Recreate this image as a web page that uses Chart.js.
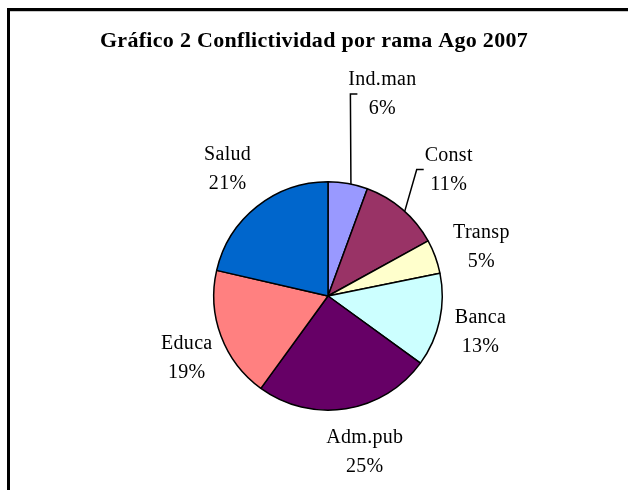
<!DOCTYPE html>
<html>
<head>
<meta charset="utf-8">
<script src="https://cdn.jsdelivr.net/npm/chart.js@4.4.1/dist/chart.umd.min.js"></script>
<style>
  html, body { margin: 0; padding: 0; background: #fff; }
  #wrap { position: relative; width: 628px; height: 490px; overflow: hidden; }
  #marco {
    position: absolute; left: 7px; top: 8px; width: 700px; height: 600px;
    border-left: 3px solid #000; border-top: 3px solid #000;
    box-shadow: inset 0 1px 0 #c8c8c8;
  }
  #grafico { position: absolute; left: 0; top: 0; }
</style>
</head>
<body>
<div id="wrap">
  <div id="marco"></div>
  <canvas id="grafico" width="628" height="490"></canvas>
</div>
<script>
// ========================
// Datos
// ========================
const titulo = "Gráfico 2 Conflictividad por rama Ago 2007";
const ramas = ["Ind.man", "Const", "Transp", "Banca", "Adm.pub", "Educa", "Salud"];
const conflictos = [5.6, 11.4, 4.8, 13.2, 25.0, 18.6, 21.4];
const colores = ["#9999FF", "#993366", "#FFFFCC", "#CCFFFF", "#660066", "#FF8080", "#0066CC"];

// ubicación de las etiquetas: distancia (en radios) y giro extra (grados)
const etiquetaDist = [1.83, 1.53, 1.41, 1.37, 1.40, 1.35, 1.42];
const etiquetaGiro = [5, 3, 2.4, 0.8, -4.3, -3.2, 0.3];
const conLinea = [true, true, false, false, false, false, false];

const fuente = "'Liberation Serif', 'Times New Roman', serif";

// ========================
// Título y etiquetas con porcentaje
// ========================
const etiquetasPlugin = {
  id: "etiquetas",
  afterDraw(chart) {
    const ctx = chart.ctx;
    const arcos = chart.getDatasetMeta(0).data;
    const total = conflictos.reduce((a, b) => a + b, 0);
    ctx.save();
    ctx.fillStyle = "#000";
    ctx.textAlign = "center";
    ctx.textBaseline = "middle";

    ctx.font = "bold 22px " + fuente;
    ctx.letterSpacing = "0.3px";
    ctx.fillText(titulo, 314, 41);

    ctx.font = "20px " + fuente;
    ctx.letterSpacing = "0.3px";
    arcos.forEach((arco, i) => {
      const medio = (arco.startAngle + arco.endAngle) / 2;
      const ang = medio + etiquetaGiro[i] * Math.PI / 180;
      const r = arco.outerRadius;
      const lx = arco.x + Math.cos(ang) * r * etiquetaDist[i];
      const ly = arco.y + Math.sin(ang) * r * etiquetaDist[i];
      const pct = Math.round(conflictos[i] / total * 100) + "%";
      ctx.fillText(ramas[i], lx, ly - 14);
      ctx.fillText(pct, lx, ly + 15);

      if (conLinea[i]) {
        const angBorde = medio + 1.5 * Math.PI / 180;
        const bx = arco.x + Math.cos(angBorde) * r;
        const by = arco.y + Math.sin(angBorde) * r;
        ctx.beginPath();
        ctx.strokeStyle = "#000";
        ctx.lineWidth = 1.5;
        ctx.moveTo(bx, by);
        ctx.lineTo(lx - 32, ly);
        ctx.lineTo(lx - 25, ly);
        ctx.stroke();
      }
    });
    ctx.restore();
  }
};

new Chart(document.getElementById("grafico").getContext("2d"), {
  type: "pie",
  data: {
    labels: ramas,
    datasets: [{
      label: "Conflictividad",
      data: conflictos,
      backgroundColor: colores,
      borderColor: "#000",
      borderWidth: 1.5
    }]
  },
  options: {
    responsive: false,
    animation: false,
    layout: { padding: { left: 213, right: 185, top: 181, bottom: 79 } },
    plugins: {
      legend: { display: false },
      tooltip: { enabled: false },
      title: { display: false }
    }
  },
  plugins: [etiquetasPlugin]
});
</script>
</body>
</html>
